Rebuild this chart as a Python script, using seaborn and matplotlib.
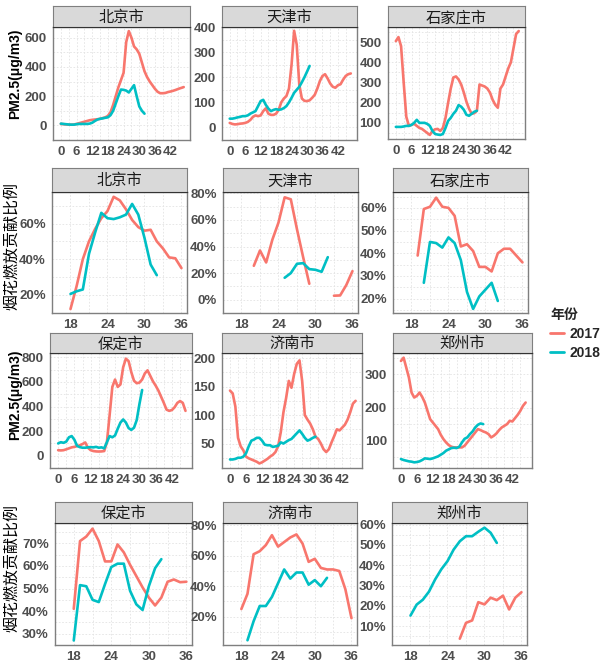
import numpy as np
import pandas as pd
import matplotlib
matplotlib.use('Agg')
import matplotlib.pyplot as plt
import seaborn as sns
from matplotlib.lines import Line2D

# ---- data -------------------------------------------------------------
# PM2.5 hourly series (hour 0 = start), 2017 and 2018
bj_pm_2017 = [10, 8, 6, 5, 5, 6, 10, 15, 20, 25, 30, 35, 38, 40, 42, 45, 50, 55,
              65, 90, 140, 200, 260, 310, 360, 570, 645, 600, 540, 520, 490, 430,
              370, 330, 300, 275, 250, 230, 220, 220, 222, 228, 232, 237, 243, 250, 256, 262]
bj_pm_2018 = [12, 10, 8, 6, 5, 5, 8, 10, 10, 10, 10, 12, 18, 30, 40, 45, 48, 52,
              55, 70, 100, 150, 200, 245, 243, 238, 225, 250, 275, 200, 130, 100, 80]

tj_pm_2017 = [18, 14, 12, 13, 15, 16, 18, 22, 30, 42, 48, 45, 48, 65, 76, 55, 50, 50,
              55, 70, 100, 115, 125, 155, 250, 385, 330, 170, 115, 106, 105, 108,
              118, 130, 155, 185, 205, 212, 195, 175, 162, 158, 168, 172, 190, 205, 212, 215]
tj_pm_2018 = [35, 35, 37, 40, 42, 45, 45, 48, 55, 60, 65, 85, 105, 110, 90, 75, 65, 70,
              73, 70, 72, 77, 85, 100, 118, 138, 150, 162, 180, 200, 222, 245]

sjz_pm_2017 = [505, 525, 480, 300, 130, 85, 90, 95, 85, 75, 70, 60, 50, 40, 60, 68, 70, 60,
               75, 125, 200, 270, 325, 330, 315, 290, 250, 205, 170, 145, 148, 160,
               290, 285, 280, 270, 250, 215, 190, 175, 270, 290, 330, 370, 400, 470, 540, 555]
sjz_pm_2018 = [80, 80, 80, 82, 85, 85, 90, 100, 115, 100, 100, 100, 95, 85, 60, 45, 42, 40,
               45, 75, 110, 125, 145, 160, 188, 180, 165, 140, 135, 145, 155, 160]

bd_pm_2017 = [45, 43, 45, 52, 60, 68, 72, 78, 85, 95, 108, 65, 45, 38, 35, 34, 35, 38,
              110, 330, 560, 620, 560, 580, 720, 790, 770, 680, 610, 590, 595, 620,
              670, 695, 650, 605, 570, 530, 480, 430, 375, 365, 372, 395, 430, 445, 430, 365]
bd_pm_2018 = [100, 110, 105, 115, 150, 160, 130, 80, 70, 65, 65, 68, 70, 68, 72, 65, 68, 60,
              110, 160, 150, 165, 220, 270, 295, 270, 225, 210, 228, 290, 420, 535]

jn_pm_2017 = [143, 138, 115, 60, 45, 38, 27, 24, 22, 20, 18, 15, 17, 20, 23, 27, 30, 35,
              45, 70, 105, 130, 160, 148, 172, 190, 196, 160, 100, 92, 85, 75,
              62, 58, 50, 40, 35, 40, 52, 63, 75, 73, 78, 83, 92, 105, 120, 125]
jn_pm_2018 = [22, 22, 23, 25, 25, 27, 33, 45, 55, 57, 60, 60, 55, 48, 47, 47, 44, 45,
              46, 52, 50, 53, 56, 58, 63, 68, 73, 67, 60, 55, 57, 60, 62]

zz_pm_2017 = [340, 350, 320, 290, 245, 230, 235, 245, 232, 215, 190, 165, 155, 145, 135, 118,
              105, 95, 87, 82, 80, 80, 80, 80, 85, 95, 105, 115, 125, 135, 132, 128,
              125, 120, 110, 115, 122, 132, 140, 145, 150, 160, 158, 168, 178, 190, 205, 215]
zz_pm_2018 = [45, 42, 40, 38, 37, 35, 36, 38, 42, 47, 46, 45, 47, 50, 53, 58, 63, 70,
              74, 78, 79, 78, 82, 95, 106, 110, 120, 128, 140, 148, 152, 150]

# fireworks contribution ratio (%), hour 18 onwards (NaN = no data)
bj_ratio_2017 = [12, 25, 40, 50, 57, 63, 67, 75, 73, 68, 62, 58, 56, 56.5, 50, 46, 41, 40.5, 35]
bj_ratio_2018 = [20.5, 22, 23, 43, 55, 66, 63, 62.5, 63.5, 65, 71, 65, 52, 37, 31]
tj_ratio_2017 = [np.nan, np.nan, 25.5, 37, 28, 45, 58, 77, 75.5, 53, 32, 12,
                 np.nan, np.nan, np.nan, 3, 3.2, 11, 21.5]
tj_ratio_2018 = [np.nan] * 7 + [16.5, 20, 27, 27.5, 23, 22.5, 21, 32]
sjz_ratio_2017 = [np.nan, 39, 59.5, 60.5, 64.5, 60.5, 60, 56.5, 43, 44, 41, 34, 34, 32, 40, 42, 42, 39, 36]
sjz_ratio_2018 = [np.nan, np.nan, 27, 45, 44.5, 42.5, 47, 44.5, 37, 23, 15.5, 21, 24, 27, 19]
bd_ratio_2017 = [41, 71, 73, 76.5, 71, 62, 62, 69.5, 66, 60.5, 55.5, 50.5, 46, 42.5, 46, 53, 54, 52.8, 53]
bd_ratio_2018 = [27, 51.5, 51, 45, 44, 52, 59.5, 61, 61, 49, 43, 40.5, 51, 59, 63]
jn_ratio_2017 = [25, 35, 61, 63, 67, 73.5, 66, 69, 72, 74, 68, 56, 58, 52, 51, 51, 50, 38, 19]
jn_ratio_2018 = [np.nan, 4.5, 17, 27, 27, 33, 42, 51, 45, 49, 49, 41, 44, 40, 45.5]
zz_ratio_2017 = [np.nan] * 8 + [3.8, 11.6, 12.8, 21.8, 20.7, 24, 22.8, 25, 18.2, 24, 26.7]
zz_ratio_2018 = [15.2, 20.6, 23, 27, 33, 38, 42, 47.7, 51.8, 54.3, 54.3, 56.5, 58.5, 56, 51]

pm_ticks = [0, 6, 12, 18, 24, 30, 36, 42]
ratio_ticks = [18, 24, 30, 36]

# ---- style ------------------------------------------------------------
sns.set_style('white')
plt.rcParams['font.family'] = ['Liberation Sans', 'Noto Sans CJK SC', 'DejaVu Sans']
pal = {'2017': '#F8766D', '2018': '#00BFC4'}
TICK_COL = '#4D4D4D'
W, H = 600, 663


def make_df(s2017, s2018, start):
    rows = []
    for year, vals in (('2017', s2017), ('2018', s2018)):
        seg = 0
        for i, v in enumerate(vals):
            if np.isnan(v):
                seg += 1
                continue
            rows.append({'hour': start + i, 'value': v, 'year': year, 'seg': f'{year}-{seg}'})
    return pd.DataFrame(rows)


def add_px_axes(fig, x0, y0, x1, y1):
    return fig.add_axes([x0 / W, 1 - y1 / H, (x1 - x0) / W, (y1 - y0) / H])


def draw_panel(fig, box, strip_top, title, df, xlim, xticks, ylim, yticks, pct):
    x0, y0, x1, y1 = box
    ax = add_px_axes(fig, x0, y0, x1, y1)
    sns.lineplot(data=df, x='hour', y='value', hue='year', units='seg', estimator=None,
                 palette=pal, hue_order=['2017', '2018'], lw=1.9, legend=False, ax=ax)
    ax.set_xlim(*xlim)
    ax.set_ylim(*ylim)
    step_x = xticks[1] - xticks[0]
    step_y = yticks[1] - yticks[0]
    ax.set_xticks(xticks, [str(t) for t in xticks], fontweight='bold', color=TICK_COL)
    ylabels = [f'{t:g}%' if pct else f'{t:g}' for t in yticks]
    ax.set_yticks(yticks, ylabels, fontweight='bold', color=TICK_COL)
    ax.set_xticks(np.arange(xticks[0] - step_x / 2, xlim[1], step_x), minor=True)
    ax.set_yticks(np.arange(yticks[0] - step_y / 2, ylim[1], step_y), minor=True)
    ax.tick_params(which='major', length=3, width=0.8, color='#555555', labelsize=9.5, pad=1.5)
    ax.tick_params(which='minor', length=0)
    ax.grid(which='both', linestyle=(0, (2, 2)), color='#E3E3E3', lw=0.6)
    ax.set_xlabel('')
    ax.set_ylabel('')
    for sp in ax.spines.values():
        sp.set_color('#7F7F7F')
        sp.set_linewidth(1.0)
    # facet strip
    sax = add_px_axes(fig, x0, strip_top, x1, y0)
    sax.set_facecolor('#D9D9D9')
    sax.set_xticks([])
    sax.set_yticks([])
    for sp in sax.spines.values():
        sp.set_color('#7F7F7F')
    sax.spines['bottom'].set_color('#333333')
    sax.text(0.5, 0.45, title, ha='center', va='center', fontsize=11,
             color='#1A1A1A', transform=sax.transAxes)
    return ax


fig = plt.figure(figsize=(6, 6.63), dpi=100)
fig.patch.set_facecolor('white')

pm_xlim = (-2.4, 49.4)
r_xlim = (17.0, 36.9)

panels = [
    # row 1: PM2.5
    ((53, 27, 190, 140), 6, '北京市', make_df(bj_pm_2017, bj_pm_2018, 0), pm_xlim, pm_ticks, (-25, 673), [0, 200, 400, 600], False),
    ((222, 27, 357, 140), 6, '天津市', make_df(tj_pm_2017, tj_pm_2018, 0), pm_xlim, pm_ticks, (-4, 400), [0, 100, 200, 300, 400], False),
    ((388, 27, 525, 139), 6, '石家庄市', make_df(sjz_pm_2017, sjz_pm_2018, 0), pm_xlim, pm_ticks, (20, 575), [100, 200, 300, 400, 500], False),
    # row 2: ratio
    ((52, 192, 187, 313), 168, '北京市', make_df(bj_ratio_2017, bj_ratio_2018, 18), r_xlim, ratio_ticks, (9.8, 77.7), [20, 40, 60], True),
    ((223, 192, 358, 313), 168, '天津市', make_df(tj_ratio_2017, tj_ratio_2018, 18), r_xlim, ratio_ticks, (0, 81), [0, 20, 40, 60, 80], True),
    ((393, 192, 528, 313), 168, '石家庄市', make_df(sjz_ratio_2017, sjz_ratio_2018, 18), r_xlim, ratio_ticks, (13.7, 67), [20, 30, 40, 50, 60], True),
    # row 3: PM2.5
    ((50, 353, 192, 468), 333, '保定市', make_df(bd_pm_2017, bd_pm_2018, 0), pm_xlim, pm_ticks, (-10, 836), [0, 200, 400, 600, 800], False),
    ((222, 353, 362, 468), 333, '济南市', make_df(jn_pm_2017, jn_pm_2018, 0), pm_xlim, pm_ticks, (7, 209), [50, 100, 150, 200], False),
    ((393, 353, 532, 468), 333, '郑州市', make_df(zz_pm_2017, zz_pm_2018, 0), pm_xlim, pm_ticks, (18, 364), [100, 200, 300], False),
    # row 4: ratio
    ((55, 523, 192, 645), 502, '保定市', make_df(bd_ratio_2017, bd_ratio_2018, 18), r_xlim, ratio_ticks, (25.3, 79), [30, 40, 50, 60, 70], True),
    ((223, 523, 357, 645), 502, '济南市', make_df(jn_ratio_2017, jn_ratio_2018, 18), r_xlim, ratio_ticks, (1.4, 81.5), [20, 40, 60, 80], True),
    ((392, 523, 527, 645), 502, '郑州市', make_df(zz_ratio_2017, zz_ratio_2018, 18), r_xlim, ratio_ticks, (0.7, 60.8), [10, 20, 30, 40, 50, 60], True),
]

for p in panels:
    draw_panel(fig, *p)

# axis titles
fig.text(15 / W, 1 - 74 / H, 'PM2.5(μg/m3)', rotation=90, ha='center', va='center',
         fontsize=10, fontweight='bold', color='black')
fig.text(15 / W, 1 - 395 / H, 'PM2.5(μg/m3)', rotation=90, ha='center', va='center',
         fontsize=10, fontweight='bold', color='black')
fig.text(12 / W, 1 - 246 / H, '烟花燃放贡献比例', rotation=90, ha='center', va='center',
         fontsize=11.5, color='black')
fig.text(12 / W, 1 - 568 / H, '烟花燃放贡献比例', rotation=90, ha='center', va='center',
         fontsize=11.5, color='black')

# legend
handles = [Line2D([], [], color=pal[y], lw=2) for y in ('2017', '2018')]
leg = fig.legend(handles, ['2017', '2018'], title='年份', loc='upper left',
                 bbox_to_anchor=(543 / W, 1 - 301 / H), frameon=False, borderpad=0,
                 handlelength=1.0, handletextpad=0.4, labelspacing=0.35,
                 prop={'size': 10, 'weight': 'bold'})
leg.get_title().set_fontsize(10)
leg.get_title().set_fontweight('bold')
leg._legend_box.align = 'left'

fig.savefig('out.png', dpi=100)
